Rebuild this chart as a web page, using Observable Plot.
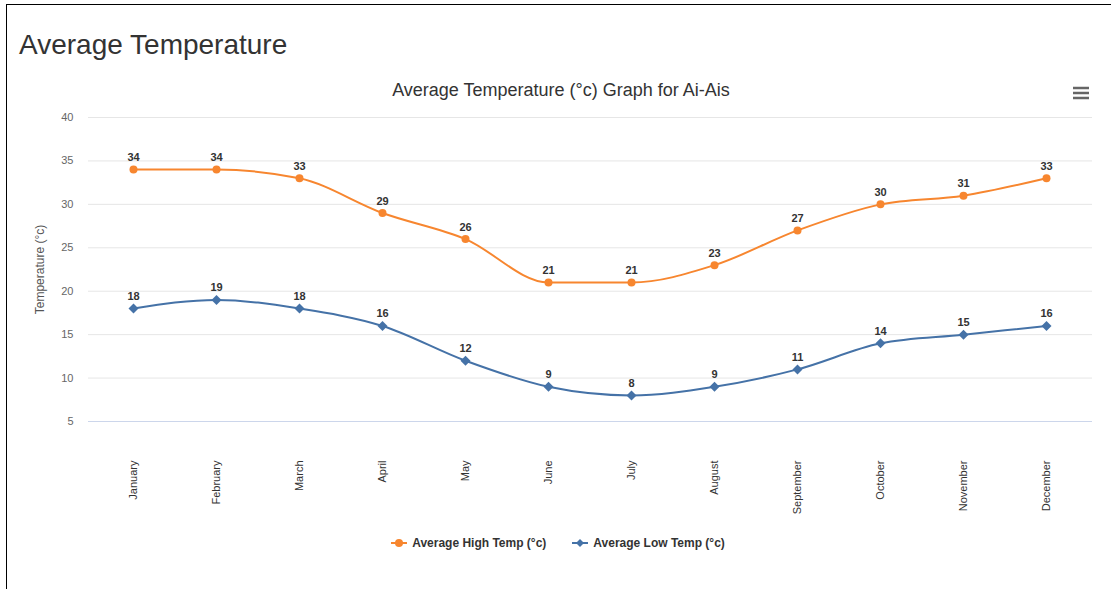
<!DOCTYPE html>
<html>
<head>
<meta charset="utf-8">
<script src="https://cdn.jsdelivr.net/npm/d3@7"></script>
<script src="https://cdn.jsdelivr.net/npm/@observablehq/plot@0.6"></script>
<style>
  html, body { margin: 0; padding: 0; background: #fff; width: 1111px; height: 589px; overflow: hidden; font-family: "Liberation Sans", Arial, sans-serif; }
  #frame { position: absolute; left: 6px; top: 4px; width: 1105px; height: 585px; border-top: 1.5px solid #000; border-left: 1.5px solid #000; }
  #title { position: absolute; left: 19px; top: 31px; font-size: 28px; color: #333; margin: 0; font-weight: normal; line-height: 1; }
  #subtitle { position: absolute; left: 0; width: 1122px; top: 81px; text-align: center; font-size: 18px; color: #333; line-height: 1; }
  #menu { position: absolute; left: 1072px; top: 86px; }
  #chart { position: absolute; left: 0; top: 105px; }
  #legend { position: absolute; left: 0; width: 1116px; top: 536px; display: flex; justify-content: center; gap: 26px; font-size: 12px; font-weight: bold; color: #333; }
  .item { display: flex; align-items: center; gap: 5px; }
</style>
</head>
<body>
<div id="frame"></div>
<h1 id="title">Average Temperature</h1>
<div id="subtitle">Average Temperature (°c) Graph for Ai-Ais</div>
<svg id="menu" width="18" height="14"><g stroke="#666" stroke-width="2.5"><line x1="1" x2="17" y1="2" y2="2"/><line x1="1" x2="17" y1="7" y2="7"/><line x1="1" x2="17" y1="12" y2="12"/></g></svg>
<div id="chart"></div>
<div id="legend"></div>
<script>
const months = ["January","February","March","April","May","June","July","August","September","October","November","December"];
const highTemps = [34,34,33,29,26,21,21,23,27,30,31,33];
const lowTemps = [18,19,18,16,12,9,8,9,11,14,15,16];
const seriesNames = ["Average High Temp (°c)", "Average Low Temp (°c)"];
const seriesColors = ["#f7862f", "#4572a7"];
const yTicks = [5,10,15,20,25,30,35,40];

const high = months.map((m, i) => ({month: m, value: highTemps[i], series: seriesNames[0]}));
const low = months.map((m, i) => ({month: m, value: lowTemps[i], series: seriesNames[1]}));
const data = high.concat(low);

const chart = Plot.plot({
  width: 1111,
  height: 416,
  marginLeft: 88,
  marginRight: 19,
  marginTop: 12,
  marginBottom: 100,
  style: {fontFamily: "'Liberation Sans', Arial, sans-serif", background: "transparent"},
  x: {type: "point", domain: months, padding: 0, range: [130, 1049]},
  y: {domain: [5, 40]},
  color: {domain: seriesNames, range: seriesColors},
  marks: [
    Plot.ruleY(yTicks.filter(t => t > 5), {stroke: "#e6e6e6", strokeWidth: 1}),
    Plot.ruleY([5], {stroke: "#ccd6eb", strokeWidth: 1}),
    Plot.axisY({ticks: yTicks, tickSize: 0, tickPadding: 15, fontSize: 11, color: "#666", label: null}),
    Plot.axisY({ticks: [], fontSize: 12, color: "#555", label: "Temperature (°c)", labelAnchor: "center", labelArrow: "none", labelOffset: 53}),
    Plot.axisX({tickRotate: -90, tickSize: 0, tickPadding: 39, fontSize: 11, color: "#333", label: null}),
    Plot.line(data, {x: "month", y: "value", stroke: "series", z: "series", curve: "monotone-x", strokeWidth: 2}),
    Plot.dot(high, {x: "month", y: "value", symbol: "circle", r: 4, fill: seriesColors[0]}),
    Plot.dot(low, {x: "month", y: "value", symbol: "diamond2", r: 4.5, fill: seriesColors[1]}),
    Plot.text(data, {x: "month", y: "value", text: "value", dy: -12, fontSize: 11, fontWeight: "bold", fill: "#333"})
  ]
});
document.getElementById("chart").appendChild(chart);

const legend = d3.select("#legend");
seriesNames.forEach((name, i) => {
  const item = legend.append("div").attr("class", "item");
  const svg = item.append("svg").attr("width", 16).attr("height", 12);
  svg.append("line").attr("x1", 0).attr("x2", 16).attr("y1", 6).attr("y2", 6).attr("stroke", seriesColors[i]).attr("stroke-width", 2);
  if (i === 0) svg.append("circle").attr("cx", 8).attr("cy", 6).attr("r", 4).attr("fill", seriesColors[i]);
  else svg.append("path").attr("d", "M8,2L12,6L8,10L4,6Z").attr("fill", seriesColors[i]);
  item.append("span").text(name);
});
</script>
</body>
</html>
